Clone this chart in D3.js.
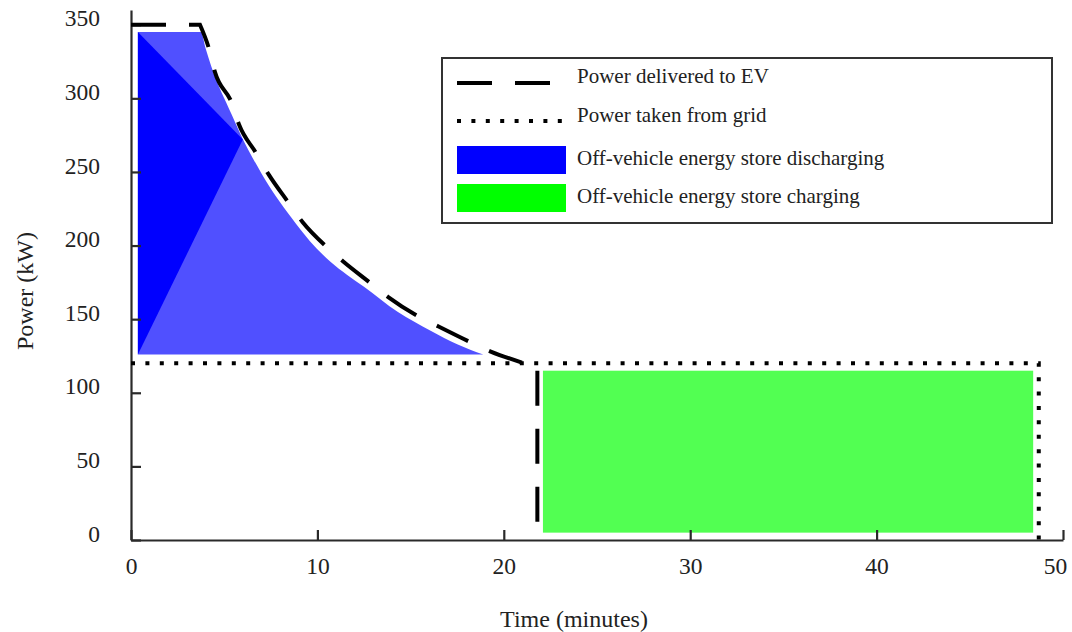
<!DOCTYPE html>
<html lang="en">
<head>
    <meta charset="UTF-8">
    <title>Power vs time</title>
    <style>
        body { margin: 0; background: #fff; }
        svg text { font-family: "Liberation Serif", "Times New Roman", serif; fill: #222; }
    </style>
    <script src="https://d3js.org/d3.v7.min.js"></script>
</head>
<body>
<div id="chart"></div>
<script>
    // power delivered to the EV (dashed)
    const evTime  = [0, 3.7, 4.2, 4.5, 5.4, 5.8, 6.7, 7.4, 8.4, 9.2, 10.5, 11.4, 12.8, 13.8, 15.4, 16.5, 18.1, 19.3, 21.1, 21.8, 21.8];
    const evPower = [350, 350, 333, 318, 297, 282, 263, 248, 230, 216, 199, 189, 175, 165, 152, 145, 135, 128, 120, 120, 0];

    // power from grid (dotted)
    const gridTime  = [0, 48.7, 48.7];
    const gridPower = [120, 120, 0];

    // store discharging area (upper edge, flat base)
    const dischargeTime = [0.37, 3.75, 4.0, 4.3, 5.4, 5.9, 7.0, 8.6, 9.6, 10.7, 11.6, 12.5, 14.3, 16.1, 17.5, 18.9];
    const dischargeTop  = [345, 345, 334, 322, 289, 275, 249, 219, 203, 189, 180, 172, 155, 142, 133, 126];
    const dischargeBase = 126;
    // darker triangle of the shading mesh
    const meshTime  = [0.37, 6.0, 0.37];
    const meshPower = [345, 272, 126];

    // store charging block
    const chargeTime  = [22.1, 48.4];
    const chargePower = [5, 115];

    const xTicks = [0, 10, 20, 30, 40, 50];
    const yTicks = [0, 50, 100, 150, 200, 250, 300, 350];

    const legendLabels = ["Power delivered to EV", "Power taken from grid",
        "Off-vehicle energy store discharging", "Off-vehicle energy store charging"];

    const W = 1072, H = 632;
    const x = d3.scaleLinear().domain([0, 50]).range([131, 1063]);
    const y = d3.scaleLinear().domain([0, 360]).range([540, 10]);

    const svg = d3.select("#chart").append("svg")
        .attr("width", W).attr("height", H);

    // areas
    const dis = dischargeTime.map((t, i) => [t, dischargeTop[i]]);
    svg.append("path")
        .attr("d", d3.area().curve(d3.curveMonotoneX)
            .x(d => x(d[0])).y0(y(dischargeBase)).y1(d => y(d[1]))(dis))
        .attr("fill", "#5050ff");
    svg.append("path")
        .attr("d", d3.line().x(d => x(d[0])).y(d => y(d[1]))(meshTime.map((t, i) => [t, meshPower[i]])) + "Z")
        .attr("fill", "#0000ff");

    svg.append("rect")
        .attr("x", x(chargeTime[0]))
        .attr("y", y(chargePower[1]))
        .attr("width", x(chargeTime[1]) - x(chargeTime[0]))
        .attr("height", y(chargePower[0]) - y(chargePower[1]))
        .attr("fill", "#52ff52");

    // axes
    const xAxis = svg.append("g")
        .attr("transform", `translate(0,${y(0)})`)
        .call(d3.axisBottom(x).tickValues(xTicks).tickSizeInner(-10).tickSizeOuter(0).tickPadding(18));
    const yAxis = svg.append("g")
        .attr("transform", `translate(${x(0)},0)`)
        .call(d3.axisLeft(y).tickValues(yTicks).tickSizeInner(-10).tickSizeOuter(0).tickPadding(31));
    [xAxis, yAxis].forEach(g => {
        g.selectAll("path.domain").attr("stroke", "#2a2a2a").attr("stroke-width", 2.2);
        g.selectAll(".tick line").attr("stroke", "#2a2a2a").attr("stroke-width", 2.2);
        g.selectAll(".tick text")
            .style("font-family", "'Liberation Serif', serif")
            .style("font-size", "23.5px").attr("fill", "#222");
    });
    yAxis.selectAll(".tick text").attr("dy", "0.05em");
    xAxis.selectAll(".tick text").attr("dy", "0.68em");
    xAxis.selectAll(".tick text").filter(d => d === 50).attr("x", -8);

    // lines
    const line = d3.line().x(d => x(d[0])).y(d => y(d[1]));
    svg.append("path")
        .attr("d", line(gridTime.map((t, i) => [t, gridPower[i]])))
        .attr("fill", "none").attr("stroke", "#000")
        .attr("stroke-width", 4).attr("stroke-dasharray", "4,10.4");

    // flat start, smooth decay, then straight drop; one path so the dashes run on
    const ev = evTime.map((t, i) => [t, evPower[i]]);
    const n = ev.length;
    const smooth = d3.line().curve(d3.curveMonotoneX)
        .x(d => x(d[0])).y(d => y(d[1]))(ev.slice(1, n - 2));
    const evPath = `M${x(ev[0][0])},${y(ev[0][1])}` + "L" + smooth.slice(1)
        + `L${x(ev[n - 2][0])},${y(ev[n - 2][1])}L${x(ev[n - 1][0])},${y(ev[n - 1][1])}`;
    svg.append("path")
        .attr("d", evPath)
        .attr("fill", "none").attr("stroke", "#000")
        .attr("stroke-width", 4).attr("stroke-dasharray", "35,23");

    // axis titles
    svg.append("text")
        .attr("x", 574).attr("y", 627)
        .attr("text-anchor", "middle")
        .style("font-size", "24px")
        .text("Time (minutes)");
    svg.append("text")
        .attr("transform", "translate(33,291) rotate(-90)")
        .attr("text-anchor", "middle")
        .style("font-size", "24px")
        .text("Power (kW)");

    // legend
    const legend = svg.append("g");
    legend.append("rect")
        .attr("x", 442).attr("y", 58).attr("width", 610).attr("height", 165)
        .attr("fill", "#fff").attr("stroke", "#333").attr("stroke-width", 2);
    const rowY = [83, 121, 160, 198];
    legend.append("line")
        .attr("x1", 457).attr("x2", 567).attr("y1", rowY[0]).attr("y2", rowY[0])
        .attr("stroke", "#000").attr("stroke-width", 4).attr("stroke-dasharray", "35,23");
    legend.append("line")
        .attr("x1", 457).attr("x2", 567).attr("y1", rowY[1]).attr("y2", rowY[1])
        .attr("stroke", "#000").attr("stroke-width", 4).attr("stroke-dasharray", "4,10.4");
    legend.append("rect")
        .attr("x", 457).attr("y", 146).attr("width", 109).attr("height", 28).attr("fill", "#0000ff");
    legend.append("rect")
        .attr("x", 457).attr("y", 184).attr("width", 109).attr("height", 28).attr("fill", "#00ff00");
    legend.selectAll("text.lab")
        .data(legendLabels)
        .enter().append("text")
        .attr("class", "lab")
        .attr("x", 577)
        .attr("y", (d, i) => [76, 115, 158, 196][i])
        .attr("dy", "0.35em")
        .style("font-size", "21px")
        .attr("fill", "#111")
        .text(d => d);
</script>
</body>
</html>
